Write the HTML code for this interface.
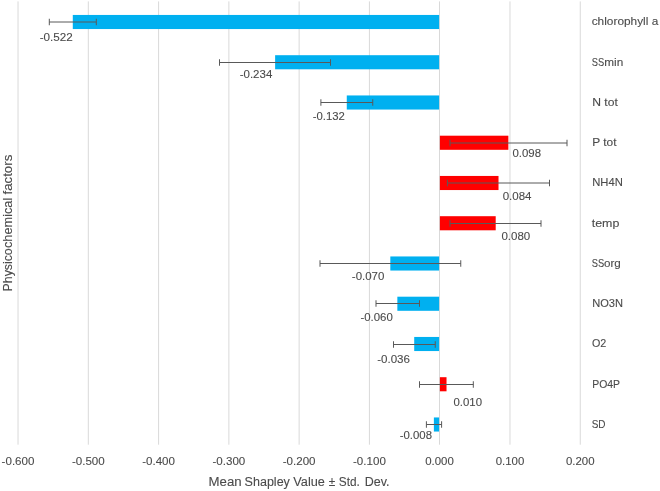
<!DOCTYPE html>
<html lang="en">
<head>
<meta charset="utf-8">
<title>Mean Shapley Value chart</title>
<style>
html,body{margin:0;padding:0;background:#fff;}
body{width:660px;height:491px;overflow:hidden;}
svg{display:block;will-change:transform;}
text{font-family:"Liberation Sans",sans-serif;fill:#4b4b4b;stroke:#4b4b4b;stroke-width:0.1px;}
.l{font-size:11.6px;}
.c{font-size:10.9px;}
.t{font-size:12.0px;}
.g{stroke:#d9d9d9;stroke-width:1;}
.e{stroke:#595959;stroke-width:1;fill:none;}
</style>
</head>
<body>
<svg width="660" height="491" viewBox="0 0 660 491">
<rect x="0" y="0" width="660" height="491" fill="#ffffff"/>
<g class="g">
<line x1="18.02" y1="1.4" x2="18.02" y2="444.7"/>
<line x1="88.30" y1="1.4" x2="88.30" y2="444.7"/>
<line x1="158.58" y1="1.4" x2="158.58" y2="444.7"/>
<line x1="228.86" y1="1.4" x2="228.86" y2="444.7"/>
<line x1="299.14" y1="1.4" x2="299.14" y2="444.7"/>
<line x1="369.42" y1="1.4" x2="369.42" y2="444.7"/>
<line x1="439.50" y1="1.4" x2="439.50" y2="444.7"/>
<line x1="509.98" y1="1.4" x2="509.98" y2="444.7"/>
<line x1="580.26" y1="1.4" x2="580.26" y2="444.7"/>
</g>
<rect x="72.79" y="14.95" width="366.31" height="14.10" fill="#00b0f0"/>
<rect x="275.12" y="55.20" width="163.99" height="14.10" fill="#00b0f0"/>
<rect x="346.77" y="95.45" width="92.33" height="14.10" fill="#00b0f0"/>
<rect x="439.90" y="135.70" width="68.45" height="14.10" fill="#ff0000"/>
<rect x="439.90" y="175.95" width="58.61" height="14.10" fill="#ff0000"/>
<rect x="439.90" y="216.20" width="55.80" height="14.10" fill="#ff0000"/>
<rect x="390.32" y="256.45" width="48.78" height="14.10" fill="#00b0f0"/>
<rect x="397.35" y="296.70" width="41.75" height="14.10" fill="#00b0f0"/>
<rect x="414.21" y="336.95" width="24.89" height="14.10" fill="#00b0f0"/>
<rect x="439.90" y="377.20" width="6.62" height="14.10" fill="#ff0000"/>
<rect x="433.88" y="417.45" width="5.22" height="14.10" fill="#00b0f0"/>
<g class="e">
<path d="M49.30 22.00H96.30M49.30 18.75V25.25M96.30 18.75V25.25"/>
<path d="M219.50 62.50H330.50M219.50 59.25V65.75M330.50 59.25V65.75"/>
<path d="M320.90 102.50H372.75M320.90 99.25V105.75M372.75 99.25V105.75"/>
<path d="M450.00 143.00H567.00M450.00 139.75V146.25M567.00 139.75V146.25"/>
<path d="M447.40 183.00H549.50M447.40 179.75V186.25M549.50 179.75V186.25"/>
<path d="M450.00 223.50H541.00M450.00 220.25V226.75M541.00 220.25V226.75"/>
<path d="M320.00 263.50H460.75M320.00 260.25V266.75M460.75 260.25V266.75"/>
<path d="M376.00 303.50H419.50M376.00 300.25V306.75M419.50 300.25V306.75"/>
<path d="M393.50 344.50H435.25M393.50 341.25V347.75M435.25 341.25V347.75"/>
<path d="M419.50 384.50H473.30M419.50 381.25V387.75M473.30 381.25V387.75"/>
<path d="M426.40 424.50H441.60M426.40 421.25V427.75M441.60 421.25V427.75"/>
</g>
<text class="l" x="39.70" y="40.60" textLength="33.10" lengthAdjust="spacingAndGlyphs">-0.522</text>
<text class="l" x="239.70" y="77.80" textLength="32.60" lengthAdjust="spacingAndGlyphs">-0.234</text>
<text class="l" x="312.70" y="119.80" textLength="32.10" lengthAdjust="spacingAndGlyphs">-0.132</text>
<text class="l" x="512.45" y="157.10" textLength="28.60" lengthAdjust="spacingAndGlyphs">0.098</text>
<text class="l" x="502.70" y="200.05" textLength="28.85" lengthAdjust="spacingAndGlyphs">0.084</text>
<text class="l" x="501.45" y="240.30" textLength="28.85" lengthAdjust="spacingAndGlyphs">0.080</text>
<text class="l" x="351.80" y="280.40" textLength="32.60" lengthAdjust="spacingAndGlyphs">-0.070</text>
<text class="l" x="360.45" y="320.80" textLength="32.35" lengthAdjust="spacingAndGlyphs">-0.060</text>
<text class="l" x="377.20" y="362.50" textLength="32.80" lengthAdjust="spacingAndGlyphs">-0.036</text>
<text class="l" x="453.50" y="405.50" textLength="28.50" lengthAdjust="spacingAndGlyphs">0.010</text>
<text class="l" x="399.70" y="439.10" textLength="32.30" lengthAdjust="spacingAndGlyphs">-0.008</text>
<text class="c" x="591.70" y="25.45" textLength="66.60" lengthAdjust="spacingAndGlyphs">chlorophyll a</text>
<text class="c" y="65.70"><tspan x="591.80" textLength="12.40" lengthAdjust="spacingAndGlyphs">SS</tspan><tspan x="604.30" textLength="19.00" lengthAdjust="spacingAndGlyphs">min</tspan></text>
<text class="c" x="592.20" y="105.95" textLength="25.60" lengthAdjust="spacingAndGlyphs">N tot</text>
<text class="c" x="592.20" y="146.20" textLength="24.35" lengthAdjust="spacingAndGlyphs">P tot</text>
<text class="c" x="592.20" y="186.45" textLength="30.60" lengthAdjust="spacingAndGlyphs">NH4N</text>
<text class="c" x="591.70" y="226.70" textLength="27.60" lengthAdjust="spacingAndGlyphs">temp</text>
<text class="c" y="266.95"><tspan x="591.80" textLength="12.40" lengthAdjust="spacingAndGlyphs">SS</tspan><tspan x="604.00" textLength="16.80" lengthAdjust="spacingAndGlyphs">org</tspan></text>
<text class="c" x="592.20" y="307.20" textLength="30.85" lengthAdjust="spacingAndGlyphs">NO3N</text>
<text class="c" x="591.95" y="347.45" textLength="14.35" lengthAdjust="spacingAndGlyphs">O2</text>
<text class="c" x="592.20" y="387.70" textLength="27.85" lengthAdjust="spacingAndGlyphs">PO4P</text>
<text class="c" x="591.70" y="427.95" textLength="13.85" lengthAdjust="spacingAndGlyphs">SD</text>
<text class="l" x="1.62" y="464.8" textLength="32.80" lengthAdjust="spacingAndGlyphs">-0.600</text>
<text class="l" x="71.90" y="464.8" textLength="32.80" lengthAdjust="spacingAndGlyphs">-0.500</text>
<text class="l" x="142.18" y="464.8" textLength="32.80" lengthAdjust="spacingAndGlyphs">-0.400</text>
<text class="l" x="212.46" y="464.8" textLength="32.80" lengthAdjust="spacingAndGlyphs">-0.300</text>
<text class="l" x="282.74" y="464.8" textLength="32.80" lengthAdjust="spacingAndGlyphs">-0.200</text>
<text class="l" x="353.02" y="464.8" textLength="32.80" lengthAdjust="spacingAndGlyphs">-0.100</text>
<text class="l" x="425.20" y="464.8" textLength="28.60" lengthAdjust="spacingAndGlyphs">0.000</text>
<text class="l" x="495.68" y="464.8" textLength="28.60" lengthAdjust="spacingAndGlyphs">0.100</text>
<text class="l" x="565.96" y="464.8" textLength="28.60" lengthAdjust="spacingAndGlyphs">0.200</text>
<text class="t" y="486.2"><tspan x="208.55" textLength="33.15" lengthAdjust="spacingAndGlyphs">Mean</tspan> <tspan x="244.60" textLength="45.30" lengthAdjust="spacingAndGlyphs">Shapley</tspan> <tspan x="293.30" textLength="31.60" lengthAdjust="spacingAndGlyphs">Value</tspan> <tspan x="328.70" textLength="6.50" lengthAdjust="spacingAndGlyphs">±</tspan> <tspan x="338.80" textLength="21.00" lengthAdjust="spacingAndGlyphs">Std.</tspan> <tspan x="364.70" textLength="24.80" lengthAdjust="spacingAndGlyphs">Dev.</tspan></text>
<text class="t" transform="translate(12.2 0) rotate(-90)" y="0"><tspan x="-291.40" textLength="43.10" lengthAdjust="spacingAndGlyphs">Physico</tspan><tspan x="-248.00" textLength="50.30" lengthAdjust="spacingAndGlyphs">chemical</tspan> <tspan x="-194.50" textLength="39.80" lengthAdjust="spacingAndGlyphs">factors</tspan></text>
</svg>
</body>
</html>
